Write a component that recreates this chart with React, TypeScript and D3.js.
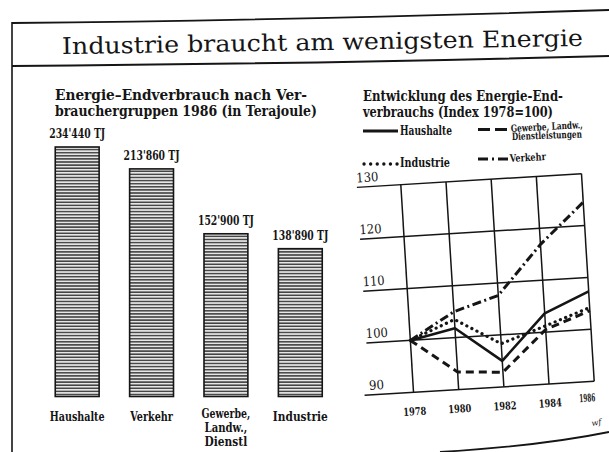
import React, { useEffect } from "react";
import * as d3 from "d3";

const title = "Industrie braucht am wenigsten Energie";
const barTitle = ["Energie–Endverbrauch nach Ver-", "brauchergruppen 1986 (in Terajoule)"];
const categories = ["Haushalte", "Verkehr", "Gewerbe", "Industrie"];
const categoryLabels = [["Haushalte"], ["Verkehr"], ["Gewerbe,", "Landw.,", "Dienstl"], ["Industrie"]];
const consumption = [234440, 213860, 152900, 138890];
const valueLabels = ["234'440 TJ", "213'860 TJ", "152'900 TJ", "138'890 TJ"];

const lineTitle = ["Entwicklung des Energie-End-", "verbrauchs (Index 1978=100)"];
const years = [1978, 1980, 1982, 1984, 1986];
const yTicks = [90, 100, 110, 120, 130];
const haushalte = [100, 101.8, 95, 103.6, 107.3];
const gewerbe = [100, 93.4, 92.8, 100.5, 103.6];
const industrie = [100, 103.5, 98.3, 101.2, 104.2];
const verkehr = [100, 105, 107.6, 116.9, 124.5];

const INK = "#151515";
const FONT = "'DejaVu Serif', 'Liberation Serif', serif";

const styles = {
  haushalte: { width: 2.6, dash: "none", cap: "butt" as const },
  gewerbe: { width: 3, dash: "8,5", cap: "butt" as const },
  industrie: { width: 3.2, dash: "0.1,5.6", cap: "round" as const },
  verkehr: { width: 3, dash: "9,3.5,2,3.5", cap: "butt" as const },
};

export default function App() {
  useEffect(() => {
    document.body.style.margin = "0";
    document.body.style.overflow = "hidden";
  }, []);

  // bar chart scales
  const xb = d3.scaleBand<string>().domain(categories).range([40, 337.5]).paddingInner(0.41).paddingOuter(0.205);
  const yb = d3.scaleLinear().domain([0, 234440]).range([396.5, 147]);

  // line chart scales
  const xl = d3.scaleLinear().domain([1978, 1986]).range([407, 588]);
  const yl = d3.scaleLinear().domain([90, 130]).range([387, 179]);
  const line = d3
    .line<number>()
    .x((_, i) => xl(years[i]))
    .y((d) => yl(d));

  const series = [
    { key: "gewerbe", data: gewerbe },
    { key: "industrie", data: industrie },
    { key: "haushalte", data: haushalte },
    { key: "verkehr", data: verkehr },
  ] as const;

  return (
    <svg width={609} height={452} style={{ display: "block", background: "#fff" }}>
      <defs>
        <pattern id="stripes" width={4} height={3.1} patternUnits="userSpaceOnUse">
          <rect width={4} height={3.1} fill="#e6e6e6" />
          <line x1={0} x2={4} y1={0.8} y2={0.8} stroke="#2a2a2a" strokeWidth={1.3} />
        </pattern>
      </defs>

      {/* frame */}
      <line x1={12} y1={22} x2={12} y2={452} stroke={INK} strokeWidth={1.6} />
      <path d="M12,23 Q300,20 609,10" fill="none" stroke={INK} strokeWidth={1.8} />
      <path d="M12,66 Q300,64 609,56" fill="none" stroke={INK} strokeWidth={2} />
      <path d="M440,452 Q540,446 609,432" fill="none" stroke={INK} strokeWidth={1.8} />

      <text
        x={62}
        y={50}
        transform="rotate(-0.9 320 45)"
        fontFamily={FONT}
        fontSize={23}
        fill={INK}
        textLength={521}
        lengthAdjust="spacingAndGlyphs"
      >
        {title}
      </text>

      {/* bar chart */}
      <g fontFamily={FONT} fontWeight="bold" fill={INK}>
        <text x={55} y={100} fontSize={14.5} textLength={252} lengthAdjust="spacingAndGlyphs">
          {barTitle[0]}
        </text>
        <text x={55} y={116} fontSize={14.5} textLength={262} lengthAdjust="spacingAndGlyphs">
          {barTitle[1]}
        </text>
        {categories.map((c, i) => {
          const x = xb(c)!;
          const w = xb.bandwidth();
          return (
            <g key={c}>
              <rect
                x={x}
                y={yb(consumption[i])}
                width={w}
                height={yb(0) - yb(consumption[i])}
                fill="url(#stripes)"
                stroke={INK}
                strokeWidth={1.6}
              />
              <text
                x={x + w / 2}
                y={yb(consumption[i]) - 9}
                textAnchor="middle"
                fontSize={12}
                textLength={56}
                lengthAdjust="spacingAndGlyphs"
              >
                {valueLabels[i]}
              </text>
              {categoryLabels[i].map((l, j) => (
                <text
                  key={l}
                  x={x + w / 2}
                  y={(categoryLabels[i].length > 1 ? 418 : 421) + j * 14}
                  textAnchor="middle"
                  fontSize={12.5}
                  textLength={l.length * 6.1}
                  lengthAdjust="spacingAndGlyphs"
                >
                  {l}
                </text>
              ))}
            </g>
          );
        })}
      </g>

      {/* line chart titles + legend */}
      <g fontFamily={FONT} fontWeight="bold" fill={INK}>
        <text x={363} y={101} fontSize={14.5} textLength={200} lengthAdjust="spacingAndGlyphs">
          {lineTitle[0]}
        </text>
        <text x={363} y={117} fontSize={14.5} textLength={190} lengthAdjust="spacingAndGlyphs">
          {lineTitle[1]}
        </text>

        <line x1={363} x2={398} y1={131} y2={131} stroke={INK} strokeWidth={3} />
        <text x={400} y={135} fontSize={12} textLength={52} lengthAdjust="spacingAndGlyphs">
          Haushalte
        </text>

        <line x1={478} x2={508} y1={129.5} y2={129.5} stroke={INK} strokeWidth={3.2} strokeDasharray="12,5" />
        <text x={511} y={132} fontSize={10} textLength={72} lengthAdjust="spacingAndGlyphs" transform="rotate(-3 511 132)">
          Gewerbe, Landw.,
        </text>
        <text x={512} y={140} fontSize={10} textLength={70} lengthAdjust="spacingAndGlyphs" transform="rotate(-2 512 140)">
          Dienstleistungen
        </text>

        <line
          x1={364}
          x2={398}
          y1={164}
          y2={164}
          stroke={INK}
          strokeWidth={3.3}
          strokeDasharray="0.1,6.5"
          strokeLinecap="round"
        />
        <text x={400} y={167} fontSize={12} textLength={50} lengthAdjust="spacingAndGlyphs">
          Industrie
        </text>

        <line x1={478} x2={508} y1={159} y2={159} stroke={INK} strokeWidth={3.2} strokeDasharray="10,4,2,4" />
        <text x={510} y={162} fontSize={10.5} textLength={36} lengthAdjust="spacingAndGlyphs" transform="rotate(-3 510 162)">
          Verkehr
        </text>
      </g>

      {/* line chart plot (slightly tilted like the scan) */}
      <g transform="rotate(-3.5 497 283)">
        {yTicks.map((t) => (
          <g key={t}>
            <line
              x1={t === 90 ? 358 : 363}
              x2={xl(1986)}
              y1={yl(t)}
              y2={yl(t)}
              stroke={INK}
              strokeWidth={1.5}
            />
            <text
              x={363}
              y={yl(t) - 5}
              fontFamily={FONT}
              fontSize={13}
              fill={INK}
              textLength={t === 90 ? 15 : 22}
              lengthAdjust="spacingAndGlyphs"
            >
              {t}
            </text>
          </g>
        ))}
        {years.map((yr) => (
          <g key={yr}>
            <line x1={xl(yr)} x2={xl(yr)} y1={yl(130)} y2={yl(90)} stroke={INK} strokeWidth={1.5} />
            <text
              x={xl(yr) - (yr === 1986 ? 8 : 0)}
              y={yl(90) + (yr === 1986 ? 20 : 23)}
              textAnchor="middle"
              fontFamily={FONT}
              fontWeight="bold"
              fontSize={11}
              fill={INK}
              textLength={yr === 1986 ? 16 : 23}
              lengthAdjust="spacingAndGlyphs"
            >
              {yr}
            </text>
          </g>
        ))}
        {series.map((s) => {
          const st = styles[s.key];
          return (
            <path
              key={s.key}
              d={line(s.data as unknown as number[])!}
              fill="none"
              stroke={INK}
              strokeWidth={st.width}
              strokeDasharray={st.dash}
              strokeLinecap={st.cap}
              strokeLinejoin="round"
            />
          );
        })}
      </g>

      <text x={592} y={426} fontFamily={FONT} fontSize={8} fontStyle="italic" fill={INK} transform="rotate(-10 592 426)">
        wf
      </text>
    </svg>
  );
}
